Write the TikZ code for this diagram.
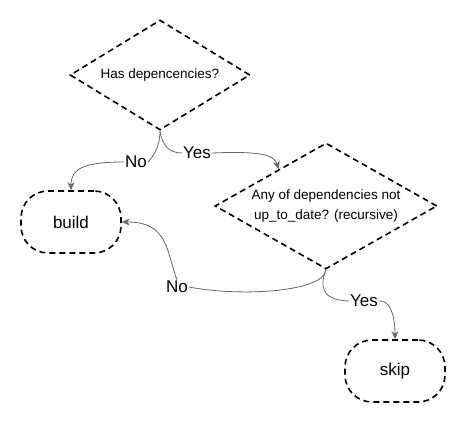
\documentclass[tikz,border=0pt]{standalone}
\usepackage{fontspec}
\setmainfont{Liberation Sans}
\usetikzlibrary{shapes.geometric,arrows.meta}

\begin{document}
\begin{tikzpicture}[x=1pt,y=-1pt,
  box/.style={draw,line width=1.6pt,dash pattern=on 6pt off 4pt,rounded corners=27pt,
    minimum width=100pt,minimum height=62pt,font=\fontsize{17}{20}\selectfont},
  question/.style={draw,line width=1.6pt,dash pattern=on 6pt off 4pt,diamond,inner sep=0pt,
    align=center,font=\fontsize{13.5}{20}\selectfont},
  edge/.style={draw=black!60,line width=0.8pt},
  arr/.style={-{Stealth[length=8pt,width=7pt,inset=2.5pt]}},
  lbl/.style={font=\fontsize{17}{20}\selectfont,inner sep=1pt}]
  \useasboundingbox (0,0) rectangle (467,422);
  \node[question,aspect=1.64,minimum width=180pt,minimum height=110pt] (has) at (160,75) {Has depencencies?};
  \node[question,aspect=1.76,minimum width=222pt,minimum height=126pt] (dep) at (326,206)
    {Any of dependencies not\\up\_to\_date? (recursive)};
  \node[box] (build) at (71,222) {build};
  \node[box] (skip) at (395,371) {skip};
  \node[lbl] (no1) at (136,162) {No};
  \node[lbl] (yes1) at (197,153) {Yes};
  \node[lbl] (no2) at (177,287) {No};
  \node[lbl] (yes2) at (364,301) {Yes};
  \draw[edge] (has.south) .. controls (160,148) and (152,158) .. (no1.east);
  \draw[edge,arr] (no1.west) .. controls (85,162) and (71,168) .. (build.north);
  \draw[edge] (has.south) .. controls (162,146) and (170,153) .. (yes1.west);
  \draw[edge,arr] (yes1.east) .. controls (262,151) and (274,155) .. (dep.142);
  \draw[edge] (dep.south) .. controls (324,292) and (240,297) .. (no2.east);
  \draw[edge,arr] (no2.north) .. controls (166,250) and (168,222) .. (build.east);
  \draw[edge] (dep.south) .. controls (320,285) and (320,300) .. (yes2.west);
  \draw[edge,arr] (yes2.east) .. controls (390,300) and (395,315) .. (skip.north);
\end{tikzpicture}
\end{document}
